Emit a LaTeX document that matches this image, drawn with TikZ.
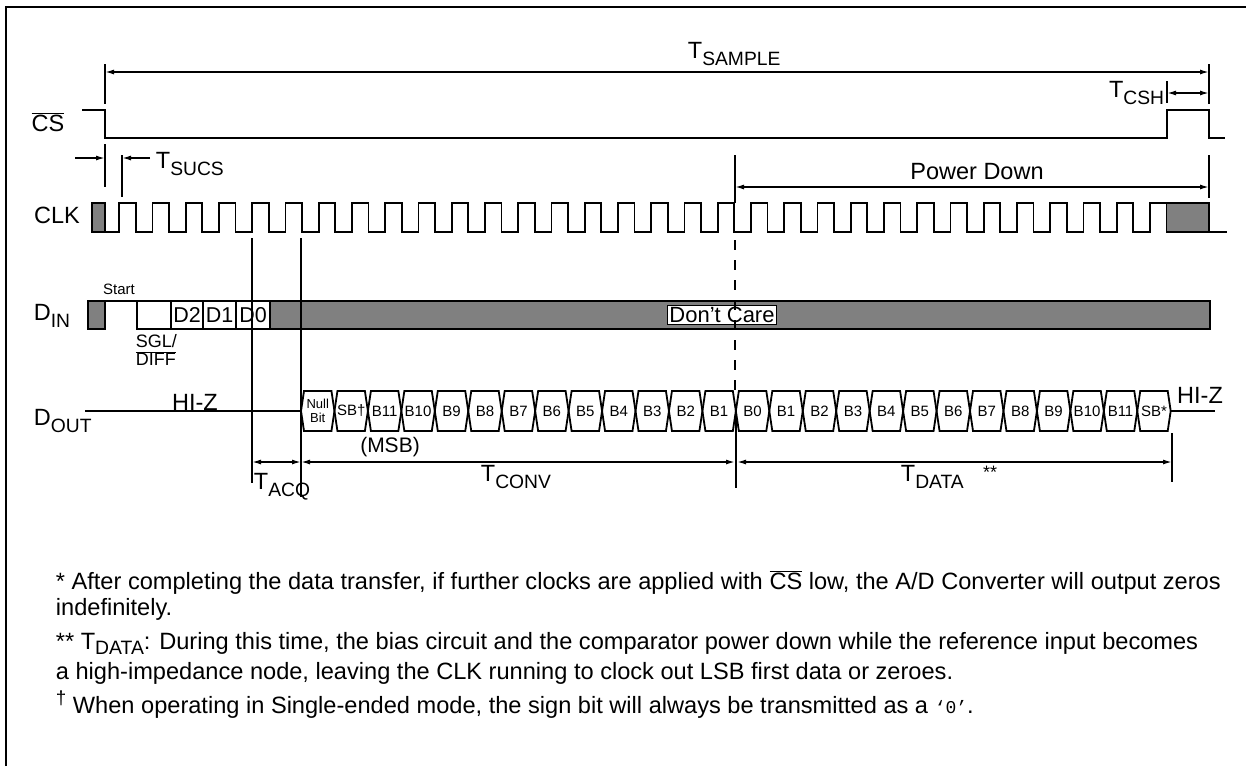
\documentclass[tikz,border=0pt]{standalone}
\usepackage{fontspec}
\setmainfont{Liberation Sans}
\newfontfamily\monofont{Liberation Mono}
\usepackage{graphicx}
\usetikzlibrary{arrows.meta}
\definecolor{bargray}{RGB}{128,128,128}
\newcommand{\tsub}[2]{#1\raisebox{-0.3em}{\scalebox{0.82}{#2}}}
\newcommand{\ovl}[1]{$\overline{\mbox{#1}}$}

\begin{document}
\begin{tikzpicture}[x=1pt, y=-1pt, line width=1.8pt,
    lbl/.style={font=\fontsize{23.5}{27}\selectfont, inner sep=0pt},
    bitlbl/.style={font=\fontsize{15}{15}\selectfont, inner sep=0pt, align=center},
    note/.style={font=\fontsize{23.6}{27}\selectfont, inner sep=0pt, anchor=base west},
    dim/.style={{Latex[length=9pt,width=5pt]}-{Latex[length=9pt,width=5pt]}, line width=1.5pt},
    graybox/.style={fill=bargray, draw=black}]
  \useasboundingbox (0,0) rectangle (1246,766);
  \draw[line width=2pt] (6,766) -- (6,7) -- (1246,7);

  % signal names
  \node[lbl] (cs) at (48,122) {\ovl{CS}};
  \node[lbl] (clk) at (57,215) {CLK};
  \node[lbl, anchor=base west] (din) at (33,320) {\tsub{D}{IN}};
  \node[lbl, anchor=base west] (dout) at (33,425) {\tsub{D}{OUT}};

  % chip select
  \draw (82,110) -- (105,110) -- (105,138) -- (1167,138) -- (1167,110) -- (1209,110) -- (1209,138) -- (1225,138);

  % clock
  \filldraw[graybox] (92,203) rectangle (105,232);
  \draw (105,232) \foreach \k in {-5,...,26}{ -- ({302+33.25*\k-16.6},232) |- ({302+33.25*\k},203) -- ++(0,29)} -- (1227,232);
  \filldraw[graybox] (1166.5,203) rectangle (1209,232);

  % data in
  \filldraw[graybox] (88,301) rectangle (105,329);
  \draw (105,301) -- (137,301) -- (137,329) -- (270,329);
  \draw (137,301) -- (270,301);
  \foreach \x in {170.7,203.3,236} \draw (\x,301) -- (\x,329);
  \filldraw[graybox] (270,301) rectangle (1210,329);
  \node[lbl, font=\fontsize{21.5}{24}\selectfont] (d2) at (187,315) {D2};
  \node[lbl, font=\fontsize{21.5}{24}\selectfont] (d1) at (219.7,315) {D1};
  \node[lbl, font=\fontsize{21.5}{24}\selectfont] (d0) at (253,315) {D0};
  \node[font=\fontsize{15}{15}\selectfont, inner sep=0pt] (start) at (119,289) {Start};
  \node[font=\fontsize{18}{18}\selectfont, align=left, anchor=north west, inner sep=0pt] (sgl) at (135,334) {SGL/\\\ovl{DIFF}};
  \node[lbl, font=\fontsize{22}{24}\selectfont, draw, fill=white, line width=1pt, inner sep=1.5pt] (care) at (722,315) {Don’t Care};

  % data out
  \draw (85,411) -- (301,411);
  \foreach \lab [count=\k from 0] in {{\fontsize{13}{13}\selectfont Null\\[-1pt]\fontsize{13}{13}\selectfont Bit},SB†,B11,B10,B9,B8,B7,B6,B5,B4,B3,B2,B1,B0,B1,B2,B3,B4,B5,B6,B7,B8,B9,B10,B11,SB*}{
    \pgfmathsetmacro\xa{301+33.45*\k}
    \pgfmathsetmacro\xb{\xa+33.45}
    \draw ({\xa+3},391) -- ({\xb-3},391) -- (\xb,411) -- ({\xb-3},431) -- ({\xa+3},431) -- (\xa,411) -- cycle;
    \node[bitlbl] (bit\k) at ({(\xa+\xb)/2},411) {\lab};
  }
  \draw (1170.7,411) -- (1215,411);
  \node[lbl] (hizl) at (195,402) {HI-Z};
  \node[lbl] (hizr) at (1200,395) {HI-Z};
  \node[font=\fontsize{21}{21}\selectfont, inner sep=0pt] (msb) at (390,447) {(MSB)};

  % timing marks
  \draw (105,64) -- (105,104);
  \draw (1209,64) -- (1209,104);
  \draw (1167,81) -- (1167,103);
  \draw (105,144) -- (105,187);
  \draw (122,155) -- (122,197);
  \draw (735,155) -- (735,203);
  \draw (1209,155) -- (1209,198);
  \draw[line width=1.5pt, dash pattern=on 10pt off 10pt] (735,240) -- (735,392);
  \draw (252,238) -- (252,483);
  \draw (301,238) -- (301,497);
  \draw (736,415) -- (736,488);
  \draw (1172,433) -- (1172,482);

  \coordinate (smpL) at (105,72);
  \coordinate (smpR) at (1209,72);
  \coordinate (cshL) at (1167,93);
  \coordinate (cshR) at (1209,93);
  \coordinate (pdL) at (735,187);
  \coordinate (pdR) at (1209,187);
  \coordinate (acqL) at (252,462);
  \coordinate (acqR) at (301,462);
  \coordinate (cnvR) at (735,462);
  \coordinate (datL) at (737,462);
  \coordinate (datR) at (1172,462);
  \draw[dim] (smpL) -- (smpR);
  \draw[dim] (cshL) -- (cshR);
  \draw[dim] (pdL) -- (pdR);
  \draw[dim] (acqL) -- (acqR);
  \draw[dim] (acqR) -- (cnvR);
  \draw[dim] (datL) -- (datR);
  \draw[line width=1.5pt, -{Latex[length=9pt,width=5pt]}] (75,158) -- (105,158);
  \draw[line width=1.5pt, -{Latex[length=9pt,width=5pt]}] (150,158) -- (122,158);

  \node[lbl, anchor=base west] (tsmp) at (687,58) {\tsub{T}{SAMPLE}};
  \node[lbl, anchor=base east] (tcsh) at (1165,97) {\tsub{T}{CSH}};
  \node[lbl, anchor=base west] (tsucs) at (155,168) {\tsub{T}{SUCS}};
  \node[lbl] (pdown) at (977,172) {Power Down};
  \node[lbl, anchor=base west] (tacq) at (253,489) {\tsub{T}{ACQ}};
  \node[lbl, anchor=base west] (tconv) at (480,481) {\tsub{T}{CONV}};
  \node[lbl, anchor=base west] (tdata) at (900,481) {\tsub{T}{DATA}};
  \node[font=\fontsize{18}{18}\selectfont, inner sep=0pt] (stars) at (990,472) {**};

  % notes
  \node[note] (n1) at (55,589) {* After completing the data transfer, if further clocks are applied with \ovl{CS} low, the A/D Converter will output zeros};
  \node[note] (n2) at (55,615) {indefinitely.};
  \node[note] (n3) at (55,649) {** T\raisebox{-0.25em}{\scalebox{0.82}{DATA}}: During this time, the bias circuit and the comparator power down while the reference input becomes};
  \node[note] (n4) at (55,679) {a high-impedance node, leaving the CLK running to clock out LSB first data or zeroes.};
  \node[note] (n5) at (55,713) {\raisebox{0.35em}{\scalebox{0.8}{†}} When operating in Single-ended mode, the sign bit will always be transmitted as a {\monofont\fontsize{18}{18}\selectfont ‘0’}.};
\end{tikzpicture}
\end{document}
